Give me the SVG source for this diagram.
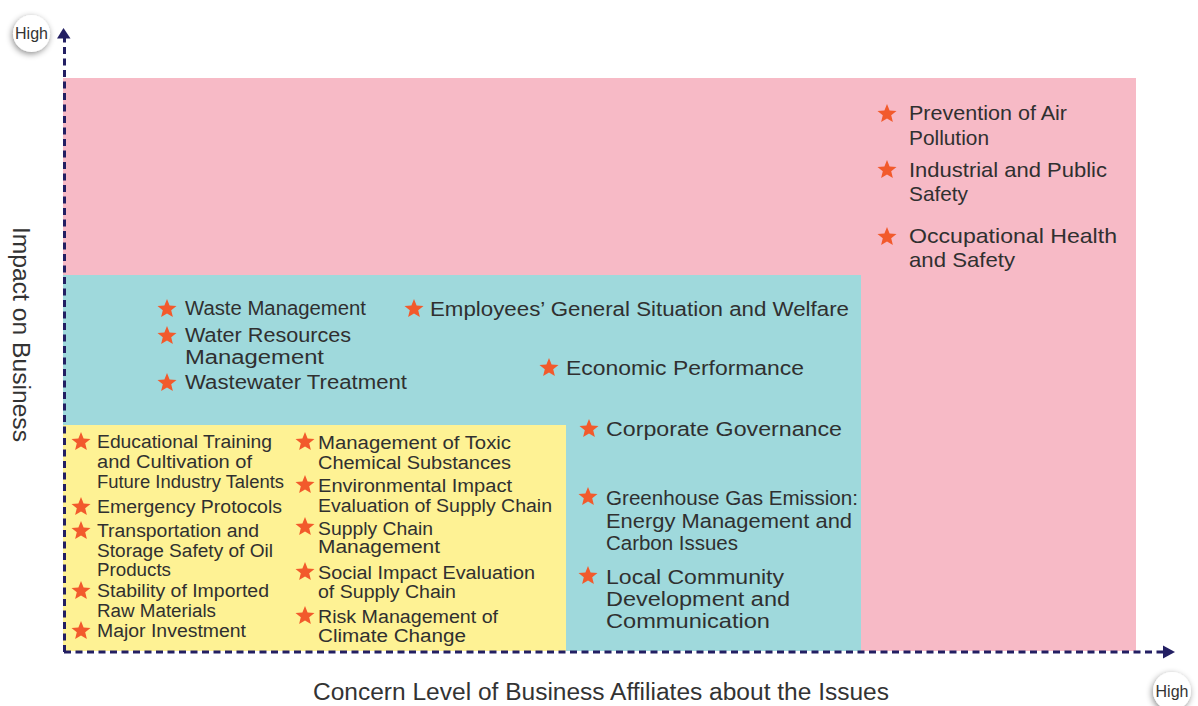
<svg xmlns="http://www.w3.org/2000/svg" xmlns:xlink="http://www.w3.org/1999/xlink" width="1198" height="706" viewBox="0 0 1198 706">
<style>
  text { font-family: "Liberation Sans", Arial, sans-serif; fill: #303030; }
  .t20 { font-size: 20px; }
  .t21 { font-size: 21px; }
  .t18 { font-size: 18px; }
  .ax { font-size: 23px; fill: #333; }
  .hi { font-size: 16px; fill: #333; }
  .axis { stroke: #231f63; stroke-width: 3; stroke-dasharray: 7 4.5; fill: none; }
  .star { fill: #f25a2c; }
</style>
<defs>
  <path id="star" d="M0,-10 L2.6,-3.55 L9.51,-3.09 L4.2,1.37 L5.88,8.09 L0,4.45 L-5.88,8.09 L-4.2,1.37 L-9.51,-3.09 L-2.6,-3.55 Z"/>
  <filter id="shadow" x="-60%" y="-60%" width="220%" height="220%">
    <feDropShadow dx="-1" dy="2" stdDeviation="3.2" flood-color="#000" flood-opacity="0.45"/>
  </filter>
</defs>
<rect width="1198" height="706" fill="#ffffff"/>

<g id="zones">
  <rect id="zone-high" x="63" y="78" width="1073" height="573" fill="#f7bac6"/>
  <rect id="zone-mid" x="63" y="275" width="798" height="376" fill="#9fd9dc"/>
  <rect id="zone-low" x="63" y="425" width="503" height="226" fill="#fef294"/>
</g>

<g id="connectors">
  <line class="axis" x1="64.5" y1="652" x2="64.5" y2="38"/>
  <polygon points="63.5,28 57,38.5 70.5,38.5" fill="#231f63"/>
  <line class="axis" x1="64" y1="652" x2="1163" y2="652"/>
  <polygon points="1175,652 1163,645.5 1163,658.5" fill="#231f63"/>
</g>

<g id="high-y">
  <circle cx="31.5" cy="33.5" r="18.5" fill="#fff" filter="url(#shadow)"/>
  <text class="hi" x="31.5" y="39" text-anchor="middle">High</text>
</g>
<g id="high-x">
  <circle cx="1172" cy="691" r="19" fill="#fff" filter="url(#shadow)"/>
  <text class="hi" x="1172" y="696.5" text-anchor="middle">High</text>
</g>

<g id="label-y">
  <text class="ax" transform="translate(13,227) rotate(90)" textLength="215" lengthAdjust="spacingAndGlyphs">Impact on Business</text>
</g>
<g id="label-x">
  <text class="ax" x="313" y="700" textLength="576" lengthAdjust="spacingAndGlyphs">Concern Level of Business Affiliates about the Issues</text>
</g>

<!-- Pink zone items -->
<g id="air-pollution">
  <use href="#star" class="star" x="887" y="114"/>
  <text class="t21" x="909" y="120" textLength="158" lengthAdjust="spacingAndGlyphs">Prevention of Air</text>
  <text class="t21" x="909" y="145" textLength="80" lengthAdjust="spacingAndGlyphs">Pollution</text>
</g>
<g id="industrial-safety">
  <use href="#star" class="star" x="887" y="170"/>
  <text class="t21" x="909" y="177" textLength="198" lengthAdjust="spacingAndGlyphs">Industrial and Public</text>
  <text class="t21" x="909" y="201" textLength="59" lengthAdjust="spacingAndGlyphs">Safety</text>
</g>
<g id="occupational-safety">
  <use href="#star" class="star" x="887" y="237"/>
  <text class="t21" x="909" y="243" textLength="208" lengthAdjust="spacingAndGlyphs">Occupational Health</text>
  <text class="t21" x="909" y="267" textLength="106" lengthAdjust="spacingAndGlyphs">and Safety</text>
</g>

<!-- Teal zone items -->
<g id="waste">
  <use href="#star" class="star" x="167" y="309"/>
  <text class="t20" x="185" y="315" textLength="181" lengthAdjust="spacingAndGlyphs">Waste Management</text>
</g>
<g id="water">
  <use href="#star" class="star" x="167" y="336"/>
  <text class="t20" x="185" y="342" textLength="166" lengthAdjust="spacingAndGlyphs">Water Resources</text>
  <text class="t20" x="185" y="364" textLength="139" lengthAdjust="spacingAndGlyphs">Management</text>
</g>
<g id="wastewater">
  <use href="#star" class="star" x="167" y="383"/>
  <text class="t20" x="185" y="389" textLength="222" lengthAdjust="spacingAndGlyphs">Wastewater Treatment</text>
</g>
<g id="employees">
  <use href="#star" class="star" x="414" y="309"/>
  <text class="t20" x="430" y="316" textLength="419" lengthAdjust="spacingAndGlyphs">Employees’ General Situation and Welfare</text>
</g>
<g id="economic">
  <use href="#star" class="star" x="549" y="368"/>
  <text class="t20" x="566" y="375" textLength="238" lengthAdjust="spacingAndGlyphs">Economic Performance</text>
</g>
<g id="governance">
  <use href="#star" class="star" x="589" y="429"/>
  <text class="t20" x="606" y="436" textLength="236" lengthAdjust="spacingAndGlyphs">Corporate Governance</text>
</g>
<g id="ghg">
  <use href="#star" class="star" x="588" y="497"/>
  <text class="t20" x="606" y="505" textLength="252" lengthAdjust="spacingAndGlyphs">Greenhouse Gas Emission:</text>
  <text class="t20" x="606" y="528" textLength="246" lengthAdjust="spacingAndGlyphs">Energy Management and</text>
  <text class="t20" x="606" y="550" textLength="132" lengthAdjust="spacingAndGlyphs">Carbon Issues</text>
</g>
<g id="community">
  <use href="#star" class="star" x="588" y="576"/>
  <text class="t20" x="606" y="584" textLength="178" lengthAdjust="spacingAndGlyphs">Local Community</text>
  <text class="t20" x="606" y="606" textLength="184" lengthAdjust="spacingAndGlyphs">Development and</text>
  <text class="t20" x="606" y="628" textLength="164" lengthAdjust="spacingAndGlyphs">Communication</text>
</g>

<!-- Yellow zone, left column -->
<g id="talents">
  <use href="#star" class="star" x="81" y="442"/>
  <text class="t18" x="97" y="448" textLength="175" lengthAdjust="spacingAndGlyphs">Educational Training</text>
  <text class="t18" x="97" y="468" textLength="155" lengthAdjust="spacingAndGlyphs">and Cultivation of</text>
  <text class="t18" x="97" y="488" textLength="187" lengthAdjust="spacingAndGlyphs">Future Industry Talents</text>
</g>
<g id="emergency">
  <use href="#star" class="star" x="81" y="507"/>
  <text class="t18" x="97" y="513" textLength="185" lengthAdjust="spacingAndGlyphs">Emergency Protocols</text>
</g>
<g id="oil-safety">
  <use href="#star" class="star" x="81" y="531"/>
  <text class="t18" x="97" y="537" textLength="162" lengthAdjust="spacingAndGlyphs">Transportation and</text>
  <text class="t18" x="97" y="557" textLength="176" lengthAdjust="spacingAndGlyphs">Storage Safety of Oil</text>
  <text class="t18" x="97" y="576" textLength="74" lengthAdjust="spacingAndGlyphs">Products</text>
</g>
<g id="raw-materials">
  <use href="#star" class="star" x="81" y="591"/>
  <text class="t18" x="97" y="597" textLength="172" lengthAdjust="spacingAndGlyphs">Stability of Imported</text>
  <text class="t18" x="97" y="617" textLength="119" lengthAdjust="spacingAndGlyphs">Raw Materials</text>
</g>
<g id="investment">
  <use href="#star" class="star" x="81" y="631"/>
  <text class="t18" x="97" y="637" textLength="149" lengthAdjust="spacingAndGlyphs">Major Investment</text>
</g>

<!-- Yellow zone, middle column -->
<g id="toxic">
  <use href="#star" class="star" x="305" y="442"/>
  <text class="t18" x="318" y="449" textLength="193" lengthAdjust="spacingAndGlyphs">Management of Toxic</text>
  <text class="t18" x="318" y="469" textLength="193" lengthAdjust="spacingAndGlyphs">Chemical Substances</text>
</g>
<g id="env-supply">
  <use href="#star" class="star" x="305" y="485"/>
  <text class="t18" x="318" y="492" textLength="194" lengthAdjust="spacingAndGlyphs">Environmental Impact</text>
  <text class="t18" x="318" y="512" textLength="234" lengthAdjust="spacingAndGlyphs">Evaluation of Supply Chain</text>
</g>
<g id="supply-chain">
  <use href="#star" class="star" x="305" y="527"/>
  <text class="t18" x="318" y="535" textLength="115" lengthAdjust="spacingAndGlyphs">Supply Chain</text>
  <text class="t18" x="318" y="553" textLength="122" lengthAdjust="spacingAndGlyphs">Management</text>
</g>
<g id="social-supply">
  <use href="#star" class="star" x="305" y="572"/>
  <text class="t18" x="318" y="579" textLength="217" lengthAdjust="spacingAndGlyphs">Social Impact Evaluation</text>
  <text class="t18" x="318" y="598" textLength="138" lengthAdjust="spacingAndGlyphs">of Supply Chain</text>
</g>
<g id="climate">
  <use href="#star" class="star" x="305" y="616"/>
  <text class="t18" x="318" y="623" textLength="180" lengthAdjust="spacingAndGlyphs">Risk Management of</text>
  <text class="t18" x="318" y="642" textLength="148" lengthAdjust="spacingAndGlyphs">Climate Change</text>
</g>
</svg>
